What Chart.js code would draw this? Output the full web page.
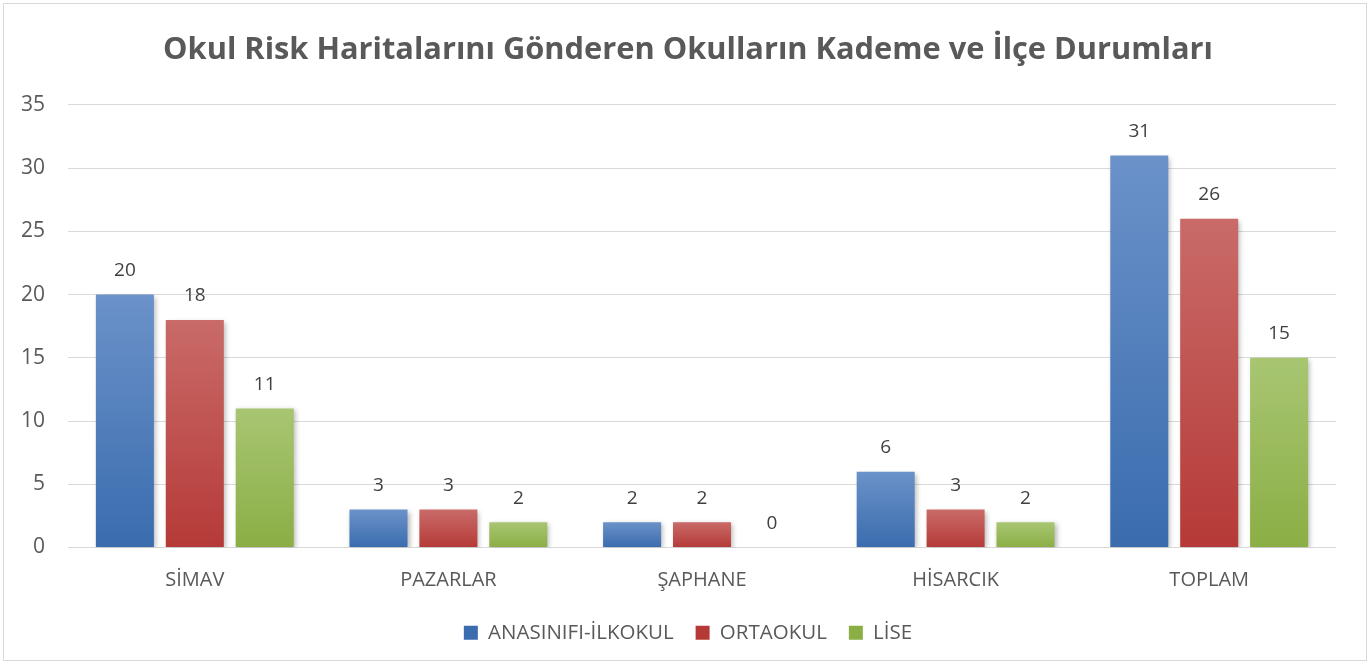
<!DOCTYPE html>
<html>
<head>
<meta charset="utf-8">
<script src="https://cdn.jsdelivr.net/npm/chart.js@4.4.0/dist/chart.umd.min.js"></script>
<style>
    body { margin: 0; background: #fff; }
    #frame {
        position: absolute; left: 3px; top: 3px;
        width: 1364px; height: 658px;
        border: 1px solid #d9d9d9; box-sizing: border-box;
    }
</style>
</head>
<body>
<div id="frame"><canvas id="chart"></canvas></div>
<script>
// Chart data
const categories = ['SİMAV', 'PAZARLAR', 'ŞAPHANE', 'HİSARCIK', 'TOPLAM'];
const seriesNames = ['ANASINIFI-İLKOKUL', 'ORTAOKUL', 'LİSE'];
const anasinifiIlkokul = [20, 3, 2, 6, 31];
const ortaokul = [18, 3, 2, 3, 26];
const lise = [11, 2, 0, 2, 15];
const yTicks = [0, 5, 10, 15, 20, 25, 30, 35];

// top / bottom colours of each bar gradient
const palettes = [
    ['#6b92c9', '#3a6cae'],
    ['#c96b69', '#b53a37'],
    ['#a8c672', '#8bae45']
];

const FONT = '"Open Sans", Lato, sans-serif';

function barGradient(idx) {
    return function(context) {
        const chart = context.chart;
        if (!chart.chartArea || context.type !== 'data') return palettes[idx][1];
        const y = chart.scales.y;
        const top = y.getPixelForValue(context.raw);
        const bottom = y.getPixelForValue(0);
        if (bottom - top < 1) return palettes[idx][1];
        const g = chart.ctx.createLinearGradient(0, top, 0, bottom);
        g.addColorStop(0, palettes[idx][0]);
        g.addColorStop(1, palettes[idx][1]);
        return g;
    };
}

// soft shadow behind the bars
const shadowPlugin = {
    id: 'barShadow',
    beforeDatasetsDraw(chart) {
        const ctx = chart.ctx;
        ctx.save();
        ctx.shadowColor = 'rgba(0,0,0,0.28)';
        ctx.shadowBlur = 5;
        ctx.shadowOffsetX = 2;
        ctx.shadowOffsetY = 2;
    },
    afterDatasetsDraw(chart) {
        chart.ctx.restore();
    }
};

// value labels above bars
const valueLabels = {
    id: 'valueLabels',
    afterDatasetsDraw(chart) {
        const ctx = chart.ctx;
        ctx.save();
        ctx.font = '19px ' + FONT;
        ctx.fillStyle = '#404040';
        ctx.textAlign = 'center';
        ctx.textBaseline = 'middle';
        chart.data.datasets.forEach((ds, i) => {
            chart.getDatasetMeta(i).data.forEach((bar, j) => {
                ctx.fillText(String(ds.data[j]), bar.x, bar.y - 24);
            });
        });
        ctx.restore();
    }
};

// title and legend sit a bit right of canvas centre in the original
const centreShift = {
    id: 'centreShift',
    afterLayout(chart) {
        const dx = 18;
        [chart.titleBlock, chart.legend].forEach(box => {
            if (!box) return;
            box.left += dx;
            box.right += dx;
        });
    }
};

const series = [anasinifiIlkokul, ortaokul, lise];

new Chart(document.getElementById('chart').getContext('2d'), {
    type: 'bar',
    data: {
        labels: categories,
        datasets: series.map((values, i) => ({
            label: seriesNames[i],
            data: values,
            backgroundColor: barGradient(i),
            borderWidth: 0,
            categoryPercentage: 0.827,
            barPercentage: 0.83
        }))
    },
    options: {
        responsive: true,
        maintainAspectRatio: false,
        animation: false,
        layout: { padding: { left: 0, right: 30, top: 0, bottom: 7 } },
        scales: {
            y: {
                min: 0,
                max: 35,
                afterBuildTicks(scale) {
                    scale.ticks = yTicks.map(v => ({ value: v }));
                },
                afterFit(scale) { scale.width = 64; },
                border: { display: false },
                grid: { color: '#d9d9d9', lineWidth: 1, drawTicks: false },
                ticks: {
                    color: '#595959',
                    font: { family: FONT, size: 21 },
                    padding: 23
                }
            },
            x: {
                border: { display: false },
                grid: { display: false },
                afterFit(scale) { scale.height = 53; },
                ticks: {
                    color: '#595959',
                    font: { family: FONT, size: 20 },
                    padding: 13
                }
            }
        },
        plugins: {
            title: {
                display: true,
                text: 'Okul Risk Haritalarını Gönderen Okulların Kademe ve İlçe Durumları',
                color: '#595959',
                font: { family: FONT, size: 30.8, weight: 'bold' },
                padding: { top: 28, bottom: 36 }
            },
            legend: {
                position: 'bottom',
                labels: {
                    color: '#595959',
                    font: { family: FONT, size: 20.5 },
                    boxWidth: 14,
                    boxHeight: 14,
                    padding: 22
                }
            },
            tooltip: { enabled: false }
        }
    },
    plugins: [shadowPlugin, valueLabels, centreShift]
});
</script>
</body>
</html>
